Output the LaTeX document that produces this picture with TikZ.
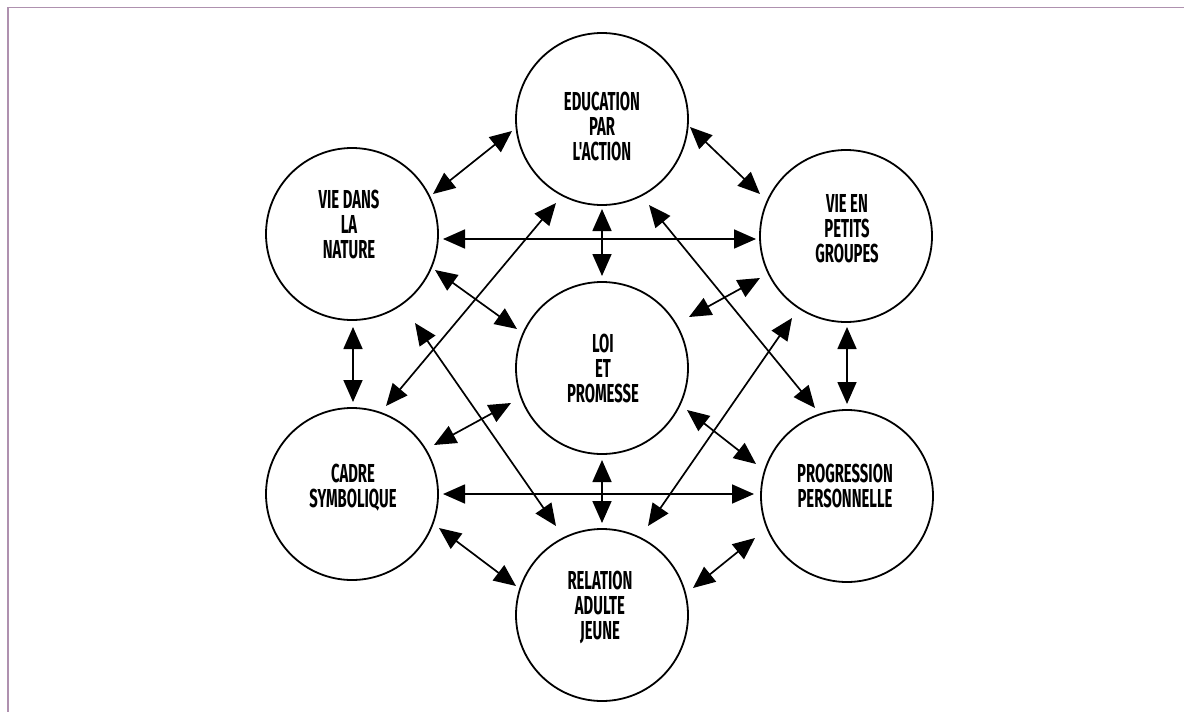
\documentclass[tikz,border=0pt]{standalone}
\usepackage{fontspec}
\newfontfamily\labfont{Fira Sans}[FakeStretch=0.57]
\usetikzlibrary{arrows.meta,calc}
\definecolor{framecol}{RGB}{175,145,175}
\begin{document}
\begin{tikzpicture}[x=1pt,y=-1pt,
  circ/.style={circle,draw,line width=1.8pt,minimum size=172pt,inner sep=0pt},
  lab/.style={align=center,inner sep=0pt,font=\labfont\bfseries\fontsize{26}{25}\selectfont},
  dbl/.style={line width=1.7pt,{Triangle[length=22pt,width=19pt]}-{Triangle[length=22pt,width=19pt]}}]
\useasboundingbox (0,0) rectangle (1184,712);
\fill[white] (0,0) rectangle (1184,712);
\draw[framecol,line width=1.5pt] (8,712) -- (8,7.5) -- (1184,7.5);

% circles
\node[circ] (edu)  at (602,119) {};
\node[circ] (vdn)  at (352,234) {};
\node[circ] (vpg)  at (846,236) {};
\node[circ] (loi)  at (602,368) {};
\node[circ] (cad)  at (352,494) {};
\node[circ] (prog) at (847,496) {};
\node[circ] (rel)  at (602,615) {};

% labels
\node[lab] (edut)  at (602,126) {EDUCATION\\PAR\\L'ACTION};
\node[lab] (vdnt)  at (349,224) {VIE DANS\\LA\\NATURE};
\node[lab] (vpgt)  at (847,229) {VIE EN\\PETITS\\GROUPES};
\node[lab] (loit)  at (603,368) {LOI\\ET\\PROMESSE};
\node[lab] (cadt)  at (353,488) {CADRE\\SYMBOLIQUE};
\node[lab] (progt) at (845,486) {PROGRESSION\\PERSONNELLE};
\node[lab] (relt)  at (600,607) {RELATION\\ADULTE\\JEUNE};

% connectors
\draw[dbl] ($(vdn)+(81,-40)$) -- ($(edu)+(-90,12)$);
\draw[dbl] ($(edu)+(88,8)$) -- ($(vpg)+(-86,-42)$);
\draw[dbl] ($(vdn)+(91,5)$) -- ($(vpg)+(-90,3)$);
\draw[dbl] ($(edu)+(0,90)$) -- ($(loi)+(0,-92)$);
\draw[dbl] ($(edu)+(-46,84)$) -- ($(cad)+(34,-88)$);
\draw[dbl] ($(edu)+(47,86)$) -- ($(prog)+(-32,-88)$);
\draw[dbl] ($(vdn)+(83,36)$) -- ($(loi)+(-85,-39)$);
\draw[dbl] ($(vpg)+(-86,42)$) -- ($(loi)+(87,-51)$);
\draw[dbl] ($(vdn)+(1,93)$) -- ($(cad)+(1,-92)$);
\draw[dbl] ($(vpg)+(1,91)$) -- ($(prog)+(0,-92)$);
\draw[dbl] ($(vdn)+(63,89)$) -- ($(rel)+(-46,-89)$);
\draw[dbl] ($(vpg)+(-54,82)$) -- ($(rel)+(46,-89)$);
\draw[dbl] ($(loi)+(-91,35)$) -- ($(cad)+(82,-49)$);
\draw[dbl] ($(loi)+(85,42)$) -- ($(prog)+(-91,-32)$);
\draw[dbl] ($(cad)+(91,0)$) -- ($(prog)+(-93,-2)$);
\draw[dbl] ($(loi)+(0,92)$) -- ($(rel)+(0,-92)$);
\draw[dbl] ($(cad)+(87,34)$) -- ($(rel)+(-86,-29)$);
\draw[dbl] ($(prog)+(-92,42)$) -- ($(rel)+(91,-27)$);
\end{tikzpicture}
\end{document}
